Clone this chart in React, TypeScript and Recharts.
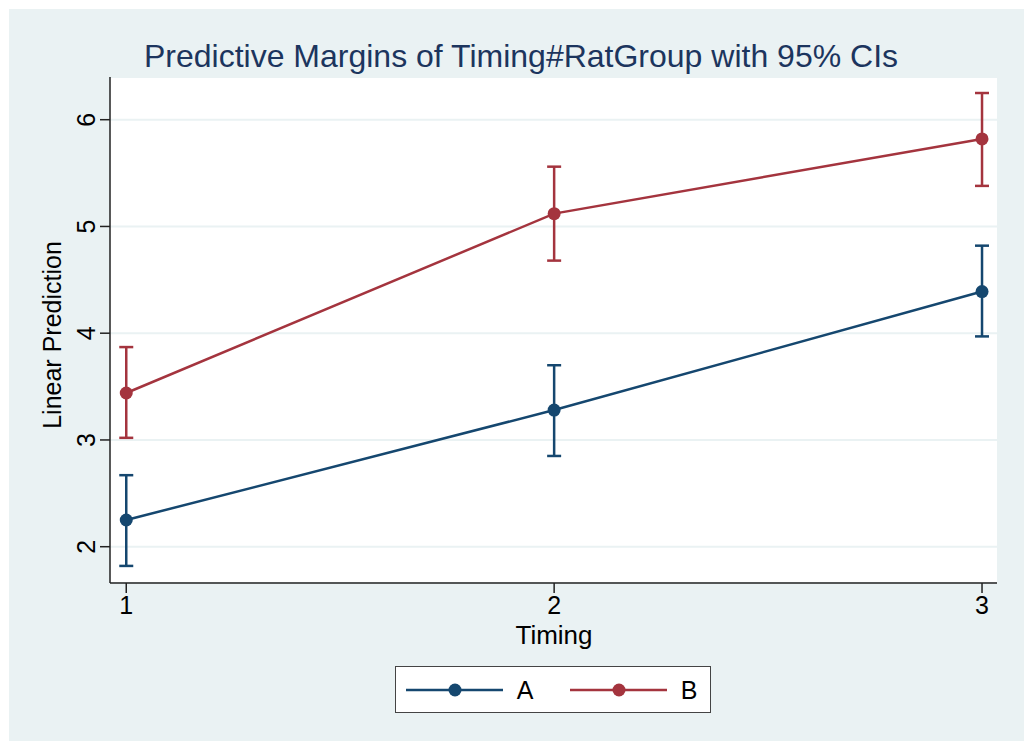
import React from 'react';
import {
  ComposedChart, Line, XAxis, YAxis, CartesianGrid, ErrorBar,
} from 'recharts';

const timing = [1, 2, 3];
const groupA = [2.25, 3.28, 4.39];
const groupALow = [1.82, 2.85, 3.97];
const groupAHigh = [2.67, 3.70, 4.82];
const groupB = [3.44, 5.12, 5.82];
const groupBLow = [3.02, 4.68, 5.38];
const groupBHigh = [3.87, 5.56, 6.25];
const yTicks = [2, 3, 4, 5, 6];

const NAVY = '#15476f';
const MAROON = '#a4343e';
const BG = '#eaf2f3';
const FONT = '"Liberation Sans", Arial, sans-serif';

const data = timing.map((t, i) => ({
  timing: t,
  a: groupA[i],
  aErr: [groupA[i] - groupALow[i], groupAHigh[i] - groupA[i]],
  b: groupB[i],
  bErr: [groupB[i] - groupBLow[i], groupBHigh[i] - groupB[i]],
}));

const YTick = (props: any) => {
  const { x, y, payload } = props;
  return (
    <text
      x={x - 3}
      y={y}
      transform={`rotate(-90 ${x - 3} ${y})`}
      textAnchor="middle"
      fontSize={25}
      fontFamily={FONT}
      fill="#000"
    >
      {payload.value}
    </text>
  );
};

const XTick = (props: any) => {
  const { x, y, payload } = props;
  return (
    <text x={x} y={y + 19} textAnchor="middle" fontSize={25} fontFamily={FONT} fill="#000">
      {payload.value}
    </text>
  );
};

const LegendItem = ({ color, label, left }: { color: string; label: string; left: number }) => (
  <g>
    <line x1={left} y1={23} x2={left + 97} y2={23} stroke={color} strokeWidth={2.5} />
    <circle cx={left + 49} cy={23} r={6.5} fill={color} />
    <text x={left + 119} y={32} textAnchor="middle" fontSize={25} fontFamily={FONT} fill="#000">
      {label}
    </text>
  </g>
);

export default function App() {
  return (
    <div style={{ position: 'relative', left: 1, top: 1, width: 1016, height: 733, background: BG, fontFamily: FONT }}>
      <div
        style={{
          position: 'absolute', left: 0, top: 30, width: 1024, textAlign: 'center',
          fontSize: 32, color: '#1c355e', lineHeight: '34px',
        }}
      >
        Predictive Margins of Timing#RatGroup with 95% CIs
      </div>
      <div
        style={{
          position: 'absolute', left: 43, top: 326, width: 0, height: 0,
        }}
      >
        <div
          style={{
            position: 'absolute', transform: 'translate(-50%, -50%) rotate(-90deg)',
            whiteSpace: 'nowrap', fontSize: 25, color: '#000', lineHeight: '28px',
          }}
        >
          Linear Prediction
        </div>
      </div>
      <div
        style={{
          position: 'absolute', left: 445, top: 612, width: 200, textAlign: 'center',
          fontSize: 26, color: '#000', lineHeight: '28px',
        }}
      >
        Timing
      </div>
      <div style={{ position: 'absolute', left: 0, top: 0 }}>
        <ComposedChart
          width={1016}
          height={733}
          data={data}
          margin={{ top: 68, right: 28, left: 41, bottom: 99 }}
        >
          <CartesianGrid horizontal vertical={false} stroke={BG} strokeWidth={2} fill="#fff" />
          <XAxis
            dataKey="timing"
            type="number"
            domain={[0.962, 3.035]}
            ticks={timing}
            tick={<XTick />}
            tickSize={10}
            height={60}
            axisLine={{ stroke: '#222', strokeWidth: 1.5 }}
            tickLine={{ stroke: '#222', strokeWidth: 1.5 }}
            allowDataOverflow
          />
          <YAxis
            type="number"
            domain={[1.66, 6.4]}
            ticks={yTicks}
            tick={<YTick />}
            tickSize={10}
            width={60}
            axisLine={{ stroke: '#222', strokeWidth: 1.5 }}
            tickLine={{ stroke: '#222', strokeWidth: 1.5 }}
            allowDataOverflow
          />
          <Line
            dataKey="a"
            stroke={NAVY}
            strokeWidth={2.5}
            dot={{ r: 6.5, fill: NAVY, stroke: NAVY, strokeWidth: 0 }}
            isAnimationActive={false}
          >
            <ErrorBar dataKey="aErr" direction="y" width={7} stroke={NAVY} strokeWidth={2.5} />
          </Line>
          <Line
            dataKey="b"
            stroke={MAROON}
            strokeWidth={2.5}
            dot={{ r: 6.5, fill: MAROON, stroke: MAROON, strokeWidth: 0 }}
            isAnimationActive={false}
          >
            <ErrorBar dataKey="bErr" direction="y" width={7} stroke={MAROON} strokeWidth={2.5} />
          </Line>
        </ComposedChart>
      </div>
      <div
        style={{
          position: 'absolute', left: 386, top: 657, width: 314, height: 45,
          background: '#fff', border: '1.5px solid #444',
        }}
      >
        <svg width={314} height={45}>
          <LegendItem color={NAVY} label="A" left={10} />
          <LegendItem color={MAROON} label="B" left={174} />
        </svg>
      </div>
    </div>
  );
}
